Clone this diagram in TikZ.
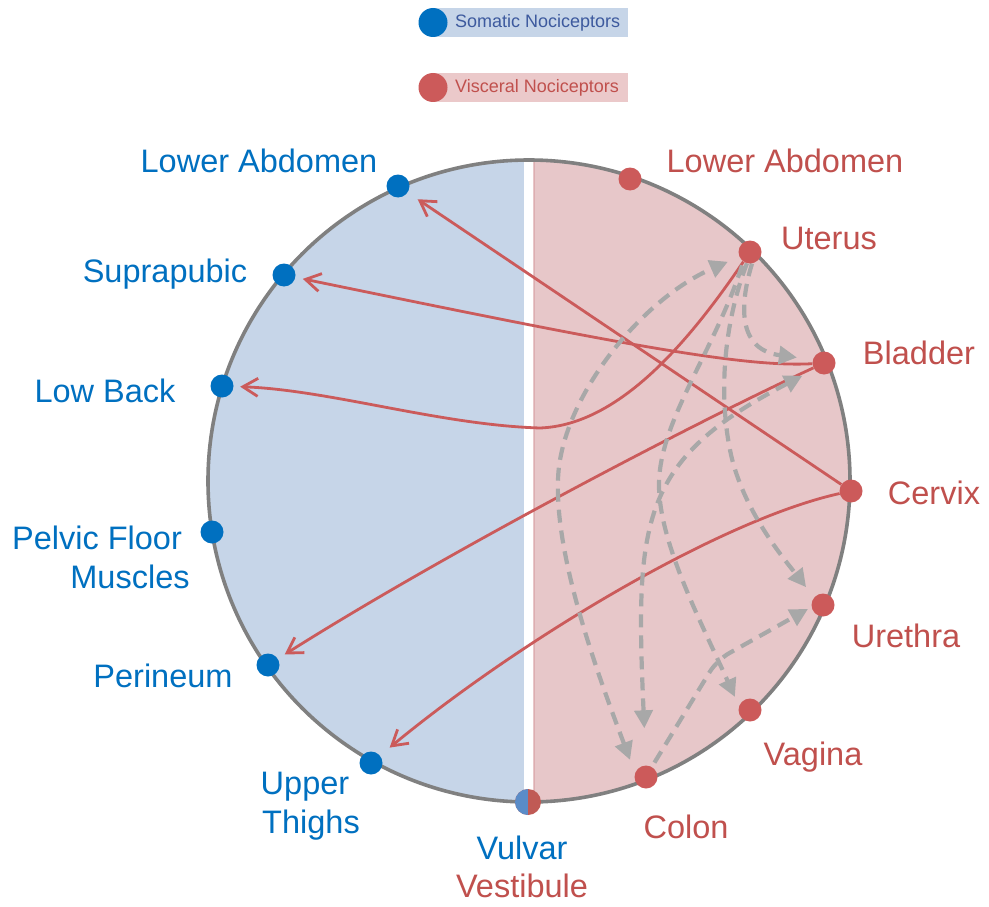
\documentclass[tikz,border=0pt]{standalone}
\usepackage{fontspec}
\setmainfont{Liberation Sans}
\usetikzlibrary{arrows.meta}
\pgfdeclarelayer{bg}
\pgfdeclarelayer{lines}
\pgfsetlayers{bg,lines,main}
\definecolor{sblue}{HTML}{0070C0}
\definecolor{vred}{HTML}{C0504D}
\definecolor{dotred}{HTML}{CC5A5A}
\definecolor{linered}{HTML}{CB5B5B}
\definecolor{fillblue}{HTML}{C6D5E8}
\definecolor{fillpink}{HTML}{E7C7C9}
\definecolor{pinkedge}{HTML}{DDAEB1}
\definecolor{dgray}{HTML}{A8A8A8}
\definecolor{ogray}{HTML}{808080}
\definecolor{legblue}{HTML}{3D5A9E}
\definecolor{legredfill}{HTML}{EBC9CA}
\definecolor{halfblue}{HTML}{5A8CC8}
\definecolor{halfred}{HTML}{C05A55}
\tikzset{
  bdot/.style={circle, fill=sblue, minimum size=23pt, inner sep=0pt},
  rdot/.style={circle, fill=dotred, minimum size=23pt, inner sep=0pt},
  lab/.style={font=\fontsize{32.5}{39}\selectfont, anchor=base, inner sep=0pt},
  blab/.style={lab, text=sblue},
  rlab/.style={lab, text=vred},
  legtext/.style={font=\fontsize{18}{20}\selectfont, anchor=west, inner sep=0pt},
  legbox/.style={minimum width=195pt, minimum height=29pt, inner sep=0pt, anchor=west},
  somarrow/.style={draw=linered, line width=2.8pt, -{Straight Barb[length=15pt,width=18pt]}},
  visline/.style={draw=dgray, line width=4.2pt, dash pattern=on 13pt off 8pt},
  vtip/.style={-{Triangle[length=18pt,width=18pt]}},
  vboth/.style={{Triangle[length=18pt,width=18pt]}-{Triangle[length=18pt,width=18pt]}}
}
\begin{document}
\begin{tikzpicture}[x=1pt,y=-1pt]
\useasboundingbox (0,0) rectangle (989,907);

% halves
\begin{pgfonlayer}{bg}
\fill[white] (0,0) rectangle (989,907);
\begin{scope}
  \clip (529,481) circle[radius=321pt];
  \fill[fillblue] (0,140) rectangle (524,820);
  \fill[fillpink] (533,140) rectangle (989,820);
  \draw[pinkedge, line width=1.8pt] (534.5,140) -- (534.5,820);
\end{scope}
\draw[ogray, line width=3.6pt] (529,481) circle[radius=321pt];
\end{pgfonlayer}

% legend
\node[legbox, fill=fillblue] (legSbox) at (433,22.5) {};
\node[legbox, fill=legredfill] (legVbox) at (433,87.5) {};
\node[bdot, minimum size=29pt] (legSdot) at (433,22.5) {};
\node[rdot, minimum size=29pt] (legVdot) at (433,87.5) {};
\node[legtext, text=legblue] (legStxt) at (455,22.5) {Somatic Nociceptors};
\node[legtext, text=vred] (legVtxt) at (455,87.5) {Visceral Nociceptors};

% somatic dots
\node[bdot] (bLA) at (398,186) {};
\node[bdot] (bSu) at (284,275) {};
\node[bdot] (bLB) at (222,386) {};
\node[bdot] (bPF) at (212,532) {};
\node[bdot] (bPe) at (268,665) {};
\node[bdot] (bUT) at (371,763) {};
% visceral dots
\node[rdot] (rLA) at (630,179) {};
\node[rdot] (rUt) at (750,252) {};
\node[rdot] (rBl) at (824,363) {};
\node[rdot] (rCe) at (851,491) {};
\node[rdot] (rUr) at (823,605) {};
\node[rdot] (rVa) at (750,710) {};
\node[rdot] (rCo) at (646,777) {};
% vulvar vestibule split dot
\node[circle, fill=halfred, minimum size=26pt, inner sep=0pt,
  path picture={
    \fill[halfblue] (path picture bounding box.south west) rectangle (path picture bounding box.north);
  }] (vv) at (528,802) {};

% labels
\node[blab] (tbLA) at (259,172) {Lower Abdomen};
\node[blab] (tbSu) at (165,282) {Suprapubic};
\node[blab] (tbLB) at (105,402) {Low Back};
\node[blab] (tbPF1) at (97,549) {Pelvic Floor};
\node[blab] (tbPF2) at (130,588) {Muscles};
\node[blab] (tbPe) at (163,687) {Perineum};
\node[blab] (tbUT1) at (305,794) {Upper};
\node[blab] (tbUT2) at (311,833) {Thighs};
\node[blab] (tvv1) at (522,859) {Vulvar};
\node[rlab] (tvv2) at (522,897) {Vestibule};
\node[rlab] (trLA) at (785,172) {Lower Abdomen};
\node[rlab] (trUt) at (829,249) {Uterus};
\node[rlab] (trBl) at (919,364) {Bladder};
\node[rlab] (trCe) at (934,504) {Cervix};
\node[rlab] (trUr) at (906,647) {Urethra};
\node[rlab] (trVa) at (813,765) {Vagina};
\node[rlab] (trCo) at (686,838) {Colon};

\begin{pgfonlayer}{lines}
% visceral -> somatic
\draw[somarrow, shorten >=12pt] (rCe) -- (bLA);
\draw[somarrow, shorten >=7.5pt] (rBl) .. controls (740,368) and (600,340) .. (bSu);
\draw[somarrow, shorten >=6.5pt] (rUt) .. controls (690,340) and (620,425) .. (540,428)
   .. controls (440,425) and (330,390) .. (bLB);
\draw[somarrow, shorten >=8pt] (rBl) .. controls (700,420) and (450,550) .. (bPe);
\draw[somarrow, shorten >=12.5pt] (rCe) .. controls (720,520) and (520,640) .. (bUT);

% viscero-visceral
\draw[visline, vboth, shorten <=14pt, shorten >=12.5pt] (rCo.160)
   .. controls (600,680) and (555,560) .. (558,480)
   .. controls (560,400) and (640,300) .. (rUt.204);
\draw[visline, vboth, shorten <=37pt, shorten >=13.5pt] (rCo.90)
   .. controls (635,520) and (640,460) .. (rBl.214);
\draw[visline, vtip, shorten >=16pt] (rUt.-80)
   .. controls (738,310) and (740,350) .. (rBl.163);
\draw[visline, vtip, shorten <=4pt, shorten >=10pt] (rUt.235)
   .. controls (715,350) and (660,420) .. (659,483)
   .. controls (658,540) and (700,620) .. (rVa.160);
\draw[visline, vtip, shorten >=13pt] (rUt.255)
   .. controls (725,320) and (718,390) .. (730,450)
   .. controls (742,510) and (785,560) .. (rUr.140);
\draw[visline, vtip, rounded corners=14pt, shorten <=5pt, shorten >=4pt] (rCo.60) -- (717,660) -- (rUr.190);
\end{pgfonlayer}
\end{tikzpicture}
\end{document}
